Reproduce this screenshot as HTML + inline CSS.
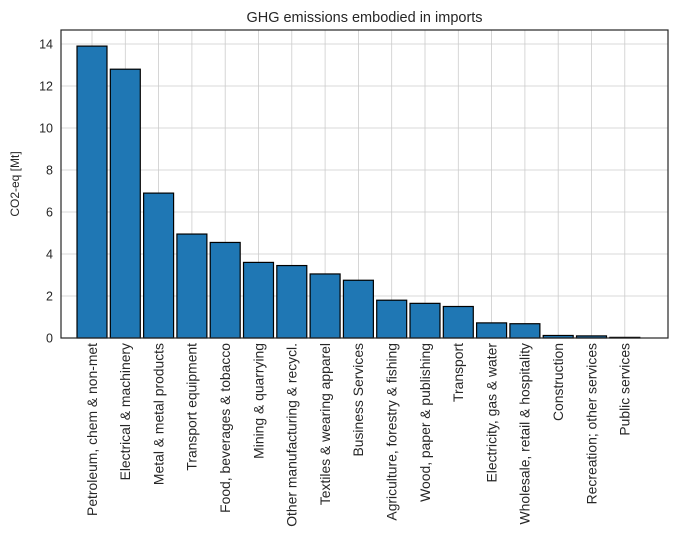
<!DOCTYPE html>
<html><head><meta charset="utf-8"><style>
body{margin:0;background:#fff;font-family:"Liberation Sans",sans-serif;}
svg text{font-family:"Liberation Sans",sans-serif;fill:#262626;}
</style></head><body>
<svg id="chart" width="678" height="537" xmlns="http://www.w3.org/2000/svg">
<text x="364.5" y="22" text-anchor="middle" font-size="14.5">GHG emissions embodied in imports</text>
<text transform="translate(19,184) rotate(-90)" text-anchor="middle" font-size="12">CO2-eq [Mt]</text>
<g id="grid"></g><g id="bars"></g><g id="ticks"></g>
<rect x="61" y="30" width="607" height="308" fill="none" stroke="#262626" stroke-width="1.2"/>
</svg>
<script>
const categories=["Petroleum, chem & non-met","Electrical & machinery","Metal & metal products","Transport equipment","Food, beverages & tobacco","Mining & quarrying","Other manufacturing & recycl.","Textiles & wearing apparel","Business Services","Agriculture, forestry & fishing","Wood, paper & publishing","Transport","Electricity, gas & water","Wholesale, retail & hospitality","Construction","Recreation; other services","Public services"];
const values=[13.9,12.8,6.9,4.95,4.55,3.6,3.45,3.05,2.75,1.8,1.65,1.5,0.72,0.68,0.12,0.1,0.03];
const yTicks=[0,2,4,6,8,10,12,14];
const NS="http://www.w3.org/2000/svg";
const X0=61,X1=668,Y0=338,Y1=30;
const step=33.3;
function xScale(i){return 92+i*step;}
function yScale(v){return 338-v*21;}
function mk(t,a,p){const e=document.createElementNS(NS,t);for(const k in a)e.setAttribute(k,a[k]);p.appendChild(e);return e;}
const grid=document.getElementById('grid'),bars=document.getElementById('bars'),ticks=document.getElementById('ticks');
yTicks.forEach(v=>{
 const l=mk('line',{x1:X0,x2:X1,y1:yScale(v),y2:yScale(v),stroke:'#cccccc','stroke-width':0.8},grid);
 
 
 const t=mk('text',{x:X0-8,y:yScale(v)+4.5,'text-anchor':'end','font-size':'12.5'},ticks);
 t.textContent=v;
 
 
});
categories.forEach((c,i)=>{
 const x=xScale(i);
 const g=mk('line',{x1:x,x2:x,y1:Y1,y2:Y0,stroke:'#cccccc','stroke-width':0.8},grid);
 
 
 const w=step*0.9;
 const r=mk('rect',{x:x-w/2,y:yScale(values[i]),width:w,height:Y0-yScale(values[i]),fill:'#1f77b4',stroke:'#000','stroke-width':1.2},bars);
 
 
 const t=mk('text',{transform:`translate(${x+4.8},${Y0+5}) rotate(-90)`,'text-anchor':'end','font-size':'13.9'},ticks);
 t.textContent=c;
 
 
});
</script>
</body></html>
